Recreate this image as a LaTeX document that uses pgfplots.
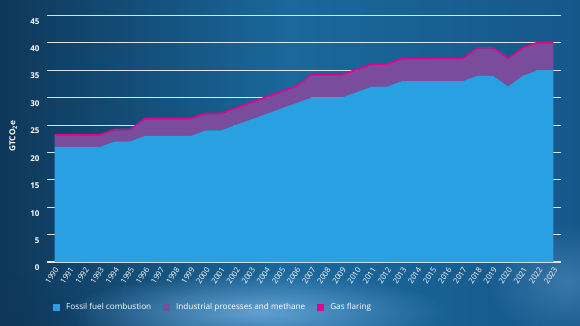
\documentclass[border=0pt]{standalone}
\usepackage{pgfplots}
\pgfplotsset{compat=1.18}
\usepackage{pgfplotstable}
\usepackage{fontspec}
\setmainfont{Open Sans}
\usetikzlibrary{shadings,fadings}
\tikzfading[name=myfade, inner color=transparent!0, outer color=transparent!100]
\definecolor{fossil}{HTML}{28A0E1}
\definecolor{indus}{HTML}{7A4C9C}
\definecolor{gasf}{HTML}{E5008C}
\definecolor{bgA}{HTML}{0E3759}
\definecolor{bgB}{HTML}{1A689C}
\definecolor{bgC}{HTML}{16578A}
\definecolor{glow}{HTML}{7AB4E4}

\pgfplotstableread{
year fossil indus gas
1990 21 2.0 0.35
1991 21 2.0 0.35
1992 21 2.0 0.35
1993 21 2.0 0.35
1994 22 2.0 0.35
1995 22 2.0 0.35
1996 23 3.0 0.35
1997 23 3.0 0.35
1998 23 3.0 0.35
1999 23 3.0 0.35
2000 24 2.9 0.35
2001 24 2.9 0.35
2002 25 2.9 0.35
2003 26 2.9 0.35
2004 27 2.9 0.35
2005 28 2.9 0.35
2006 29 2.9 0.35
2007 30 4.0 0.35
2008 30 4.0 0.35
2009 30 4.0 0.35
2010 31 3.95 0.35
2011 32 3.9 0.35
2012 32 3.9 0.35
2013 33 3.95 0.35
2014 33 3.95 0.35
2015 33 3.95 0.35
2016 33 3.95 0.35
2017 33 3.95 0.35
2018 34 4.9 0.35
2019 34 4.9 0.35
2020 32 4.95 0.35
2021 34 4.9 0.35
2022 35 4.9 0.35
2023 35 4.9 0.35
}\datatable

\begin{document}
\begin{tikzpicture}
% background
\shade[left color=bgA, right color=bgC, middle color=bgB] (-47bp,-64bp) rectangle (533bp,262bp);
\fill[glow, path fading=myfade, opacity=0.75] (210bp,-50bp) ellipse (190bp and 40bp);
\fill[glow, path fading=myfade, opacity=0.35] (520bp,-20bp) ellipse (80bp and 60bp);
\fill[bgA, path fading=myfade, opacity=0.5] (-47bp,-64bp) ellipse (90bp and 50bp);
\begin{axis}[
  at={(0,0)}, anchor=south west,
  scale only axis,
  width=514bp, height=246.7bp,
  xmin=1989.5, xmax=2023.5,
  ymin=0, ymax=45,
  stack plots=y,
  axis lines*=left,
  y axis line style={draw=none},
  x axis line style={draw=white!80!gray, line width=1.2pt},
  xtick={1990,...,2023},
  ytick={0,5,...,45},
  major tick length=0pt,
  ymajorgrids,
  grid style={white, line width=0.8pt, opacity=0.85},
  axis on top=false,
  tick label style={text=white},
  yticklabel style={font=\fontsize{8}{9}\selectfont\bfseries, xshift=-4bp, yshift=-6bp},
  xticklabel style={font=\fontsize{7.8}{8}\selectfont, xshift=2.5bp, yshift=-5.5bp, rotate=57, anchor=east, inner sep=0.5pt},
  /pgf/number format/assume math mode=true,
  /pgf/number format/1000 sep={},
  ylabel={GTCO\textsubscript{2}e},
  ylabel style={at={(axis description cs:-0.066,0.51)}, anchor=center, text=white, font=\fontsize{8.3}{9}\selectfont\bfseries},
  legend columns=-1,
  legend style={at={(axis description cs:0.0117,-0.184)}, anchor=west, draw=none, fill=none, text=white,
    font=\fontsize{8.2}{9}\selectfont, inner sep=0pt,
    /tikz/every odd column/.append style={column sep=4bp},
    /tikz/every even column/.append style={column sep=10bp}},
]
\addplot[fill=fossil, draw=none, legend image code/.code={\fill[fossil] (0bp,-3.5bp) rectangle (7bp,3.5bp);}] table[x=year, y=fossil] {\datatable} \closedcycle;
\addlegendentry{Fossil fuel combustion}
\addplot[fill=indus, draw=none, legend image code/.code={\fill[indus] (0bp,-3.5bp) rectangle (7bp,3.5bp);}] table[x=year, y=indus] {\datatable} \closedcycle;
\addlegendentry{Industrial processes and methane}
\addplot[fill=gasf, draw=none, legend image code/.code={\fill[gasf] (0bp,-3.5bp) rectangle (7bp,3.5bp);}] table[x=year, y=gas] {\datatable} \closedcycle;
\addlegendentry{Gas flaring}
\end{axis}
\pgfresetboundingbox
\useasboundingbox (-47bp,-64bp) rectangle (533bp,262bp);
\end{tikzpicture}
\end{document}
